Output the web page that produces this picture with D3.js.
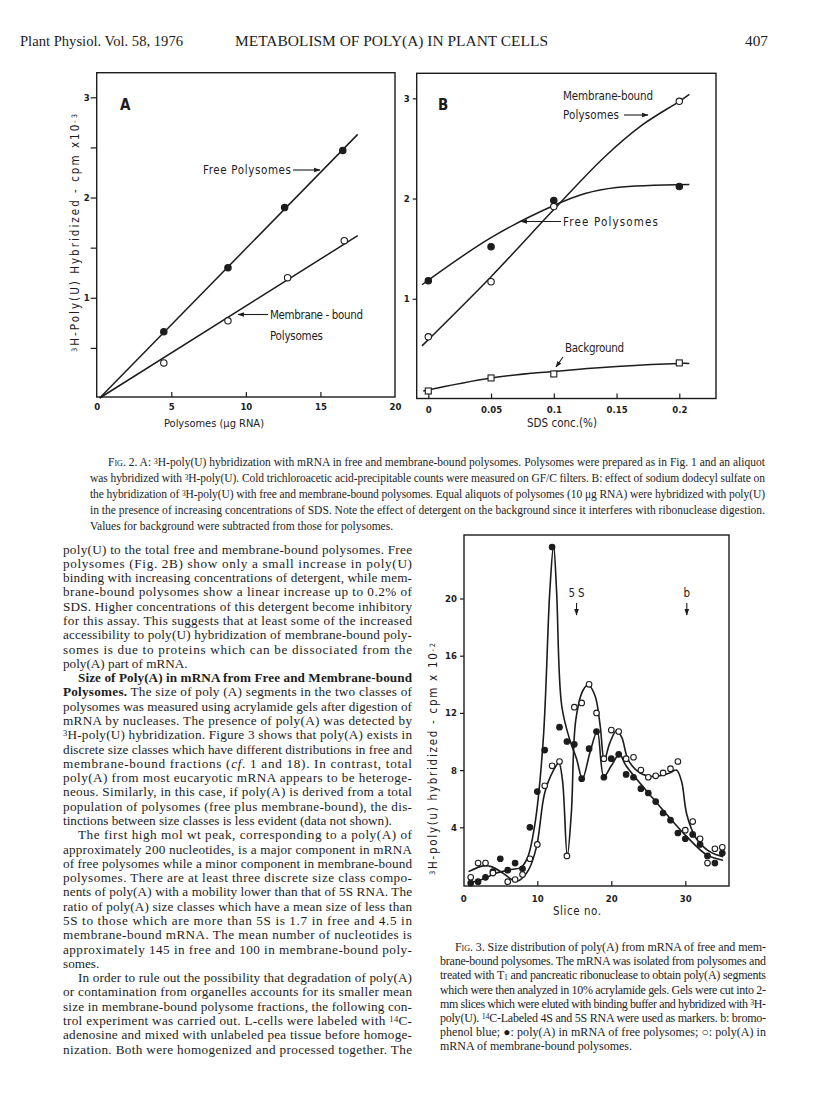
<!DOCTYPE html>
<html>
<head>
<meta charset="utf-8">
<script src="https://cdn.jsdelivr.net/npm/d3@7"></script>
<style>
  body { margin: 0; background: #fff; }
  svg { display: block; }
  .serif { font-family: "Liberation Serif", "Times New Roman", serif; fill: #1c1c1c; }
  .plot { font-family: "DejaVu Sans Condensed", "DejaVu Sans", sans-serif; fill: #1c1c1c; }
  .tick text { font-family: "DejaVu Sans Condensed", "DejaVu Sans", sans-serif; font-weight: bold; font-size: 9.5px; fill: #1c1c1c; }
  .tick line { stroke: #1c1c1c; stroke-width: 1.2; }
</style>
</head>
<body>
<svg id="page" width="816" height="1103"></svg>
<script>
/**
 * Data.
 */

// Fig. 2A - polysomes (ug RNA) vs 3H-poly(U) hybridized (cpm x 10^-3).
const freeAmountA = [4.5, 8.8, 12.6, 16.5];
const freeHybridA = [0.66, 1.30, 1.90, 2.47];
const membraneAmountA = [4.5, 8.8, 12.8, 16.6];
const membraneHybridA = [0.35, 0.77, 1.20, 1.57];
const fitAmountA = [0.2, 17.5];
const freeFitA = [0.0, 2.63];
const membraneFitA = [0.0, 1.62];
const xTicksA = [0, 5, 10, 15, 20];
const yTicksA = [0.5, 1, 1.5, 2, 2.5, 3];

// Fig. 2B - SDS concentration (%) vs hybridization.
const sdsConc = [0, 0.05, 0.1, 0.2];
const freeHybridB = [1.18, 1.52, 1.98, 2.12];
const membraneHybridB = [0.62, 1.17, 1.92, 2.97];
const backgroundB = [0.08, 0.21, 0.25, 0.36];
const freeCurveB = [[-0.005, 1.14], [0.05, 1.61], [0.1, 1.93], [0.125, 2.05], [0.15, 2.11], [0.208, 2.14]];
const membraneCurveB = [[-0.005, 0.53], [0.05, 1.22], [0.1, 1.89], [0.14, 2.41], [0.17, 2.73], [0.2, 2.97], [0.208, 3.04]];
const backgroundCurveB = [[-0.004, 0.08], [0.05, 0.21], [0.1, 0.275], [0.15, 0.325], [0.2, 0.355], [0.208, 0.355]];
const xTicksB = [0, 0.05, 0.1, 0.15, 0.2];
const yTicksB = [1, 2, 3];

// Fig. 3 - slice no. vs 3H-poly(U) hybridized (cpm x 10^-2).
const freeSlice3 = [1, 2, 3, 4, 5, 6, 7, 8, 9, 10, 11, 12, 13, 14, 15, 16, 17, 18, 19, 20, 21, 22, 23, 24, 25, 26, 27, 28, 29, 30, 31, 32, 33, 34, 35];
const freeCpm3 = [0.1, 0.2, 0.5, 0.9, 1.8, 1.0, 1.5, 1.1, 4.0, 6.5, 9.4, 23.6, 11.0, 10.0, 9.8, 7.4, 9.5, 10.7, 7.5, 8.8, 9.1, 7.7, 7.5, 6.7, 6.4, 5.8, 5.0, 4.5, 3.6, 3.2, 3.5, 2.8, 2.0, 1.5, 2.2];
const membraneSlice3 = [1, 2, 3, 4, 6, 7, 8, 9, 10, 11, 12, 13, 14, 15, 16, 17, 18, 19, 20, 21, 22, 23, 24, 25, 26, 27, 28, 29, 30, 31, 32, 33, 34, 35];
const membraneCpm3 = [0.5, 1.5, 1.5, 0.8, 0.2, 0.35, 0.7, 1.8, 2.8, 6.9, 8.3, 8.6, 2.0, 12.4, 12.7, 14.0, 12.0, 8.8, 10.8, 10.7, 8.8, 8.9, 8.0, 7.5, 7.6, 7.8, 8.1, 8.6, 3.8, 4.4, 3.2, 1.5, 2.5, 2.6];
const freeCurve3 = [[0.7, 0.1], [2.5, 0.35], [4.5, 0.8], [6.5, 1.05], [7.8, 1.2], [8.7, 1.9], [9.7, 4.3], [10.8, 10.1], [11.7, 20.6], [12.2, 23.7], [12.6, 20.6], [13.3, 12.5], [14.4, 10.1], [15.3, 8.8], [16.1, 7.4], [17.1, 9.2], [18.1, 10.7], [19, 7.55], [20, 8.3], [21.1, 9.1], [22, 8.3], [26, 5.8], [30.2, 3.35], [32.9, 2.07], [35.1, 1.7]];
const membraneCurve3 = [[0.7, 0.9], [2.7, 1.3], [3.8, 1.25], [5.4, 0.78], [6.75, 0.3], [7.6, 0.3], [8.8, 1.0], [9.9, 2.65], [11, 6.4], [12.2, 8.0], [12.9, 8.5], [13.4, 7.3], [14.05, 2.0], [14.6, 5], [15.2, 11.5], [16.2, 13.6], [16.9, 13.95], [17.8, 13.2], [18.5, 11.1], [19.05, 8.7], [19.8, 9.9], [20.7, 10.75], [21.4, 10.3], [22.3, 8.7], [23.9, 7.8], [25.7, 7.55], [27.9, 7.8], [28.8, 8.0], [29.5, 7.2], [30.2, 4.9], [31.5, 3.2], [33.3, 2.3], [35.1, 1.95]];
const xTicks3 = [0, 10, 20, 30];
const yTicks3 = [4, 8, 12, 16, 20];
const marker5S = 15.3;
const markerB = 30.2;

// Page text.
const headerLeft = "Plant Physiol. Vol. 58, 1976";
const headerMid = "METABOLISM OF POLY(A) IN PLANT CELLS";
const headerPage = "407";

const captionFig2 = [
  "{Fig.} 2. A: ^3^H-poly(U) hybridization with mRNA in free and membrane-bound polysomes. Polysomes were prepared as in Fig. 1 and an aliquot",
  "was hybridized with ^3^H-poly(U). Cold trichloroacetic acid-precipitable counts were measured on GF/C filters. B: effect of sodium dodecyl sulfate on",
  "the hybridization of ^3^H-poly(U) with free and membrane-bound polysomes. Equal aliquots of polysomes (10 \u03bcg RNA) were hybridized with poly(U)",
  "in the presence of increasing concentrations of SDS. Note the effect of detergent on the background since it interferes with ribonuclease digestion.",
  "Values for background were subtracted from those for polysomes."
];

const bodyLines = [
  "poly(U) to the total free and membrane-bound polysomes. Free",
  "polysomes (Fig. 2B) show only a small increase in poly(U)",
  "binding with increasing concentrations of detergent, while mem-",
  "brane-bound polysomes show a linear increase up to 0.2% of",
  "SDS. Higher concentrations of this detergent become inhibitory",
  "for this assay. This suggests that at least some of the increased",
  "accessibility to poly(U) hybridization of membrane-bound poly-",
  "somes is due to proteins which can be dissociated from the",
  "poly(A) part of mRNA.",
  "*Size of Poly(A) in mRNA from Free and Membrane-bound*",
  "*Polysomes.* The size of poly (A) segments in the two classes of",
  "polysomes was measured using acrylamide gels after digestion of",
  "mRNA by nucleases. The presence of poly(A) was detected by",
  "^3^H-poly(U) hybridization. Figure 3 shows that poly(A) exists in",
  "discrete size classes which have different distributions in free and",
  "membrane-bound fractions (_cf._ 1 and 18). In contrast, total",
  "poly(A) from most eucaryotic mRNA appears to be heteroge-",
  "neous. Similarly, in this case, if poly(A) is derived from a total",
  "population of polysomes (free plus membrane-bound), the dis-",
  "tinctions between size classes is less evident (data not shown).",
  "The first high mol wt peak, corresponding to a poly(A) of",
  "approximately 200 nucleotides, is a major component in mRNA",
  "of free polysomes while a minor component in membrane-bound",
  "polysomes. There are at least three discrete size class compo-",
  "nents of poly(A) with a mobility lower than that of 5S RNA. The",
  "ratio of poly(A) size classes which have a mean size of less than",
  "5S to those which are more than 5S is 1.7 in free and 4.5 in",
  "membrane-bound mRNA. The mean number of nucleotides is",
  "approximately 145 in free and 100 in membrane-bound poly-",
  "somes.",
  "In order to rule out the possibility that degradation of poly(A)",
  "or contamination from organelles accounts for its smaller mean",
  "size in membrane-bound polysome fractions, the following con-",
  "trol experiment was carried out. L-cells were labeled with ^14^C-",
  "adenosine and mixed with unlabeled pea tissue before homoge-",
  "nization. Both were homogenized and processed together. The"
];
const bodyIndented = [9, 20, 30];
const bodyLast = [8, 19, 29];

const captionFig3 = [
  "{Fig.} 3. Size distribution of poly(A) from mRNA of free and mem-",
  "brane-bound polysomes. The mRNA was isolated from polysomes and",
  "treated with T~1~ and pancreatic ribonuclease to obtain poly(A) segments",
  "which were then analyzed in 10% acrylamide gels. Gels were cut into 2-",
  "mm slices which were eluted with binding buffer and hybridized with ^3^H-",
  "poly(U). ^14^C-Labeled 4S and 5S RNA were used as markers. b: bromo-",
  "phenol blue; \u25cf: poly(A) in mRNA of free polysomes; \u25cb: poly(A) in",
  "mRNA of membrane-bound polysomes."
];

/**
 * Helpers
 */
const ink = "#1c1c1c";
const svg = d3.select("#page");

svg.append("defs").append("marker")
  .attr("id", "arrow")
  .attr("viewBox", "0 0 10 10")
  .attr("refX", 9).attr("refY", 5)
  .attr("markerWidth", 6).attr("markerHeight", 6)
  .attr("orient", "auto")
  .append("path")
  .attr("d", "M0,1.5L10,5L0,8.5Z")
  .attr("fill", ink);

// *bold*  _italic_  ^sup^  ~sub~  {small caps}
function addRich(text, str) {
  const re = /(\*[^*]+\*|_[^_]+_|\^[^^]+\^|~[^~]+~|\{[^}]+\})/g;
  str.split(re).forEach((part) => {
    if (!part) return;
    const t = text.append("tspan");
    const inner = part.slice(1, -1);
    switch (part[0]) {
      case "*": t.attr("font-weight", "bold").text(inner); break;
      case "_": t.attr("font-style", "italic").text(inner); break;
      case "^": t.attr("baseline-shift", "35%").attr("font-size", "65%").text(inner); break;
      case "~": t.attr("baseline-shift", "-15%").attr("font-size", "65%").text(inner); break;
      case "{": t.attr("font-variant", "small-caps").text(inner); break;
      default: t.text(part);
    }
  });
  return text;
}

function paragraph(lines, opts) {
  lines.forEach((line, i) => {
    const indent = (opts.indented || []).includes(i) || (opts.firstIndent && i === 0);
    const x = indent ? opts.x0 + opts.indent : opts.x0;
    const t = svg.append("text")
      .attr("class", "serif")
      .attr("x", x)
      .attr("y", opts.y0 + i * opts.lead)
      .attr("font-size", opts.size);
    addRich(t, line);
    const last = (opts.last || []).includes(i) || i === lines.length - 1 && opts.lastUnjustified;
    if (!last) t.attr("textLength", opts.x1 - x).attr("lengthAdjust", "spacing");
  });
}

function plotLabel(x, y, str, size, length, anchor = "start") {
  const t = svg.append("text")
    .attr("class", "plot")
    .attr("x", x).attr("y", y)
    .attr("font-size", size)
    .attr("text-anchor", anchor);
  addRich(t, str);
  if (length) t.attr("textLength", length).attr("lengthAdjust", "spacing");
  return t;
}

function arrow(x1, y1, x2, y2) {
  svg.append("line")
    .attr("x1", x1).attr("y1", y1).attr("x2", x2).attr("y2", y2)
    .attr("stroke", ink).attr("stroke-width", 1.1)
    .attr("marker-end", "url(#arrow)");
}

function frame(x0, x1, y0, y1) {
  svg.append("rect")
    .attr("x", x0).attr("y", y0)
    .attr("width", x1 - x0).attr("height", y1 - y0)
    .attr("fill", "none").attr("stroke", ink).attr("stroke-width", 1.4);
}

function styleAxis(g) {
  g.select(".domain").remove();
}

function dots(xs, ys, x, y, filled, r = 3.2) {
  svg.append("g").selectAll("circle")
    .data(xs.map((d, i) => [d, ys[i]]))
    .join("circle")
    .attr("cx", (d) => x(d[0]))
    .attr("cy", (d) => y(d[1]))
    .attr("r", r)
    .attr("fill", filled ? ink : "#fff")
    .attr("stroke", ink)
    .attr("stroke-width", 1.1);
}

function squares(xs, ys, x, y, s = 6) {
  svg.append("g").selectAll("rect")
    .data(xs.map((d, i) => [d, ys[i]]))
    .join("rect")
    .attr("x", (d) => x(d[0]) - s / 2)
    .attr("y", (d) => y(d[1]) - s / 2)
    .attr("width", s).attr("height", s)
    .attr("fill", "#fff").attr("stroke", ink).attr("stroke-width", 1.1);
}

function curve(points, x, y, width = 1.5) {
  const line = d3.line()
    .x((d) => x(d[0]))
    .y((d) => y(d[1]))
    .curve(d3.curveCatmullRom.alpha(0.5));
  svg.append("path")
    .attr("d", line(points))
    .attr("fill", "none").attr("stroke", ink).attr("stroke-width", width);
}

/**
 * Page header
 */
function drawHeader() {
  svg.append("text").attr("class", "serif").attr("x", 20).attr("y", 46)
    .attr("font-size", 14).attr("textLength", 163).attr("lengthAdjust", "spacingAndGlyphs")
    .text(headerLeft);
  svg.append("text").attr("class", "serif").attr("x", 235).attr("y", 46)
    .attr("font-size", 14).attr("textLength", 313).attr("lengthAdjust", "spacingAndGlyphs")
    .text(headerMid);
  svg.append("text").attr("class", "serif").attr("x", 745).attr("y", 46)
    .attr("font-size", 14).attr("textLength", 23).attr("lengthAdjust", "spacingAndGlyphs")
    .text(headerPage);
}

/**
 * Fig. 2A
 */
function drawFig2A() {
  const x = d3.scaleLinear().domain([0, 20]).range([96.7, 395]);
  const y = d3.scaleLinear().domain([0, 3]).range([398, 97.3]);
  frame(96.7, 395, 72.7, 397);

  svg.append("g").attr("transform", "translate(96.7,0)")
    .call(d3.axisLeft(y).tickValues(yTicksA).tickSize(6).tickPadding(1)
      .tickFormat((d) => Number.isInteger(d) ? d : ""))
    .call(styleAxis);
  svg.append("g").attr("transform", "translate(0,397)")
    .call(d3.axisBottom(x).tickValues(xTicksA).tickSizeInner(-5).tickSizeOuter(0).tickPadding(6))
    .call(styleAxis)
    .call((g) => g.selectAll(".tick line").filter((d) => d === 0 || d === 20).remove());

  const fit = d3.line().x((d) => x(d[0])).y((d) => y(d[1]));
  [freeFitA, membraneFitA].forEach((f) => {
    svg.append("path")
      .attr("d", fit(fitAmountA.map((a, i) => [a, f[i]])))
      .attr("fill", "none").attr("stroke", ink).attr("stroke-width", 1.5);
  });
  dots(freeAmountA, freeHybridA, x, y, true);
  dots(membraneAmountA, membraneHybridA, x, y, false);

  svg.append("text").attr("class", "plot").attr("x", 120).attr("y", 110)
    .attr("font-size", 15).attr("font-weight", "bold").text("A");
  plotLabel(203, 174, "Free  Polysomes", 11.5, 88);
  arrow(293, 170, 320, 170);
  plotLabel(270, 319, "Membrane - bound", 11.5, 93);
  plotLabel(270, 340, "Polysomes", 11.5, 53);
  arrow(268, 314.5, 238, 314.5);

  plotLabel(0, 0, "^3^H-Poly(U)  Hybridized -  cpm x10^-3^", 11.5, 238, "middle")
    .attr("transform", "translate(79,233) rotate(-90)");
  plotLabel(214, 427, "Polysomes  (\u03bcg RNA)", 11, 100, "middle");
}

/**
 * Fig. 2B
 */
function drawFig2B() {
  const x = d3.scaleLinear().domain([0, 0.2]).range([428.3, 679.3]);
  const y = d3.scaleLinear().domain([0, 3]).range([399, 98.3]);
  frame(416.7, 716, 73.3, 398.5);

  svg.append("g").attr("transform", "translate(416.7,0)")
    .call(d3.axisLeft(y).tickValues(yTicksB).tickSize(4).tickPadding(3).tickFormat(d3.format("d")))
    .call(styleAxis);
  svg.append("g").attr("transform", "translate(0,398.5)")
    .call(d3.axisBottom(x).tickValues(xTicksB).tickSizeInner(-5).tickSizeOuter(0).tickPadding(8)
      .tickFormat((d) => d === 0 ? "0" : String(d)))
    .call(styleAxis);

  curve(freeCurveB, x, y);
  curve(membraneCurveB, x, y);
  curve(backgroundCurveB, x, y);
  dots(sdsConc, freeHybridB, x, y, true);
  dots(sdsConc, membraneHybridB, x, y, false);
  squares(sdsConc, backgroundB, x, y);

  svg.append("text").attr("class", "plot").attr("x", 438).attr("y", 110)
    .attr("font-size", 15).attr("font-weight", "bold").text("B");
  plotLabel(563, 100, "Membrane-bound", 11.5, 90);
  plotLabel(563, 119, "Polysomes", 11.5, 56);
  arrow(624, 115, 648, 115);
  plotLabel(563, 226, "Free    Polysomes", 11.5, 95);
  arrow(561, 221.5, 521, 221.5);
  plotLabel(565, 352, "Background", 11.5, 59);
  arrow(563, 357, 556, 367);
  plotLabel(562, 427, "SDS conc.(%)", 11.5, 70, "middle");
}

/**
 * Fig. 3
 */
function drawFig3() {
  const x = d3.scaleLinear().domain([0, 30]).range([463.3, 685.3]);
  const y = d3.scaleLinear().domain([0, 20]).range([884.5, 598.5]);
  frame(464, 729, 535, 886);

  svg.append("g").attr("transform", "translate(464,0)")
    .call(d3.axisLeft(y).tickValues(yTicks3).tickSize(4).tickPadding(3))
    .call(styleAxis);
  svg.append("g").attr("transform", "translate(0,886)")
    .call(d3.axisBottom(x).tickValues(xTicks3).tickSizeInner(-5).tickSizeOuter(0).tickPadding(9))
    .call(styleAxis)
    .call((g) => g.selectAll(".tick line").filter((d) => d === 0).remove());

  curve(freeCurve3, x, y, 1.6);
  curve(membraneCurve3, x, y, 1.6);
  dots(freeSlice3, freeCpm3, x, y, true, 2.8);
  dots(membraneSlice3, membraneCpm3, x, y, false, 2.8);

  plotLabel(x(marker5S), 597, "5 S", 11.5, 16, "middle");
  arrow(x(marker5S), 603, x(marker5S), 615);
  plotLabel(x(markerB), 597, "b", 11.5, null, "middle");
  arrow(x(markerB), 603, x(markerB), 615);

  plotLabel(0, 0, "^3^H-poly(u)  hybridized  -  cpm x 10^-2^", 11.5, 232, "middle")
    .attr("transform", "translate(437,759) rotate(-90)");
  plotLabel(577, 915, "Slice  no.", 11.5, 48, "middle");
}

/**
 * Text blocks
 */
function drawText() {
  paragraph(captionFig2, {
    x0: 90, x1: 765, y0: 466, lead: 16, size: 11.5, indent: 18,
    firstIndent: true, lastUnjustified: true
  });
  paragraph(bodyLines, {
    x0: 63, x1: 412, y0: 553.5, lead: 14.29, size: 13.2, indent: 15,
    indented: bodyIndented, last: bodyLast, lastUnjustified: false
  });
  paragraph(captionFig3, {
    x0: 440, x1: 766, y0: 951, lead: 14.2, size: 12, indent: 15,
    firstIndent: true, lastUnjustified: true
  });
}

drawHeader();
drawFig2A();
drawFig2B();
drawFig3();
drawText();
</script>
</body>
</html>
